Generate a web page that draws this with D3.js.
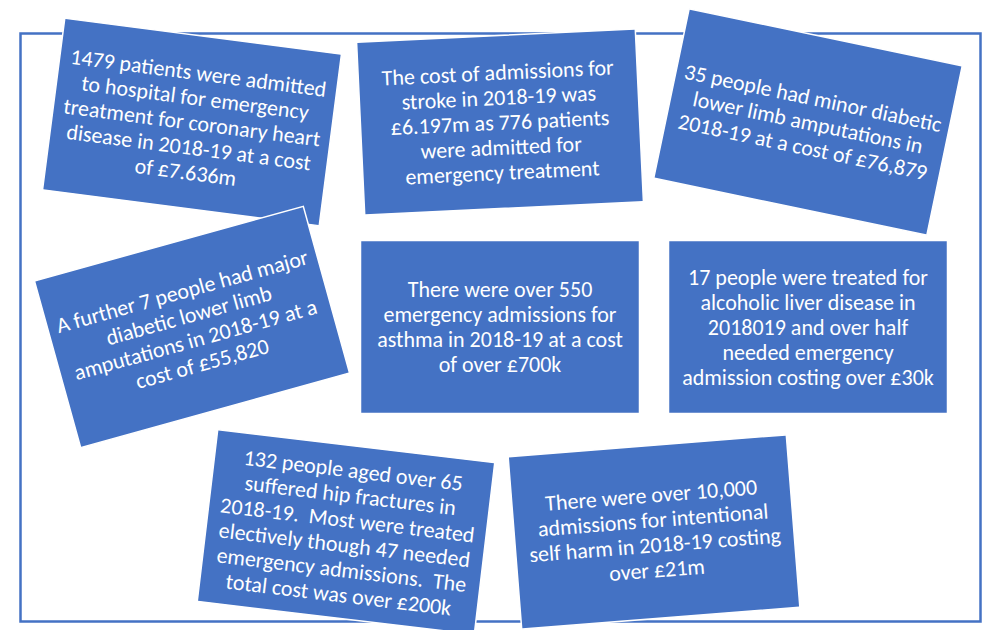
<!DOCTYPE html>
<html>
<head>
<meta charset="utf-8">
<script src="https://cdn.jsdelivr.net/npm/d3@7"></script>
<style>
  body { margin: 0; background: #fff; }
  .fact-text { font-family: Calibri, Carlito, Lato, sans-serif; fill: #fff; white-space: pre; }
</style>
</head>
<body>
<div id="graph"></div>
<script>
'use strict';

// one entry per box, already split into the lines shown on the slide
let facts = [
    ['1479 patients were admitted', 'to hospital for emergency', 'treatment for coronary heart', 'disease in 2018-19 at a cost', 'of £7.636m'],
    ['The cost of admissions for', 'stroke in 2018-19 was', '£6.197m as 776 patients', 'were admitted for', 'emergency treatment'],
    ['35 people had minor diabetic', 'lower limb amputations in', '2018-19 at a cost of £76,879'],
    ['A further 7 people had major', 'diabetic lower limb', 'amputations in 2018-19 at a', 'cost of £55,820'],
    ['There were over 550', 'emergency admissions for', 'asthma in 2018-19 at a cost', 'of over £700k'],
    ['17 people were treated for', 'alcoholic liver disease in', '2018019 and over half', 'needed emergency', 'admission costing over £30k'],
    ['132 people aged over 65', 'suffered hip fractures in', '2018-19.  Most were treated', 'electively though 47 needed', 'emergency admissions.  The', 'total cost was over £200k'],
    ['There were over 10,000', 'admissions for intentional', 'self harm in 2018-19 costing', 'over £21m']
];
// grid slot of each box (column, row) and how far it is tilted, in degrees
let gridCols = [0.0, 1.0, 2.0, 0.0, 1.0, 2.0, 0.5, 1.5];
let gridRows = [0, 0, 0, 1, 1, 1, 2, 2];
let tilts = [7.4, -2.7, 11.8, -15.5, 0, 0, 6.8, -4.5];

let w = 986, h = 630;
let boxW = 279, boxH = 173;
let lineH = 25;
let blue = '#4472C4';

let svg = d3.select('#graph').append('svg').attr('width', w).attr('height', h);

let scales = {};
scales.x = d3.scaleLinear().domain([0, 2]).range([192, 808]);
scales.y = d3.scaleLinear().domain([0, 2]).range([122, 532]);

// outer frame
svg.append('rect')
    .attr('x', 20.5).attr('y', 33.5)
    .attr('width', 960).attr('height', 588)
    .attr('fill', 'none')
    .attr('stroke', blue)
    .attr('stroke-width', 2.5);

let boxData = facts.map(function(lines, i){
    return {lines: lines, col: gridCols[i], row: gridRows[i], tilt: tilts[i]};
});

let boxes = svg.selectAll('.fact').data(boxData).enter().append('g')
    .classed('fact', true)
    .attr('transform', function(d){
        return 'translate(' + scales.x(d.col) + ',' + scales.y(d.row) + ')rotate(' + d.tilt + ')';
    });

boxes.append('rect')
    .attr('x', -boxW / 2).attr('y', -boxH / 2)
    .attr('width', boxW).attr('height', boxH)
    .attr('fill', blue)
    .attr('stroke', '#fff')
    .attr('stroke-width', 1.5);

boxes.each(function(d){
    let g = d3.select(this);
    let n = d.lines.length;
    d.lines.forEach(function(line, j){
        g.append('text')
            .classed('fact-text', true)
            .attr('text-anchor', 'middle')
            .attr('x', 0)
            .attr('y', (j - (n - 1) / 2) * lineH)
            .attr('dy', '0.36em')
            .style('font-size', '22px')
            .text(line);
    });
});

// squeeze the substitute font to the width Calibri had on the slide
let ref = svg.selectAll('.fact-text').filter(function(){ return this.textContent === 'The cost of admissions for'; });
let k = 233 / ref.node().getComputedTextLength();
if (k < 1) {
    svg.selectAll('.fact-text').each(function(){
        let len = this.getComputedTextLength();
        d3.select(this).attr('textLength', len * k).attr('lengthAdjust', 'spacingAndGlyphs');
    });
}
</script>
</body>
</html>
